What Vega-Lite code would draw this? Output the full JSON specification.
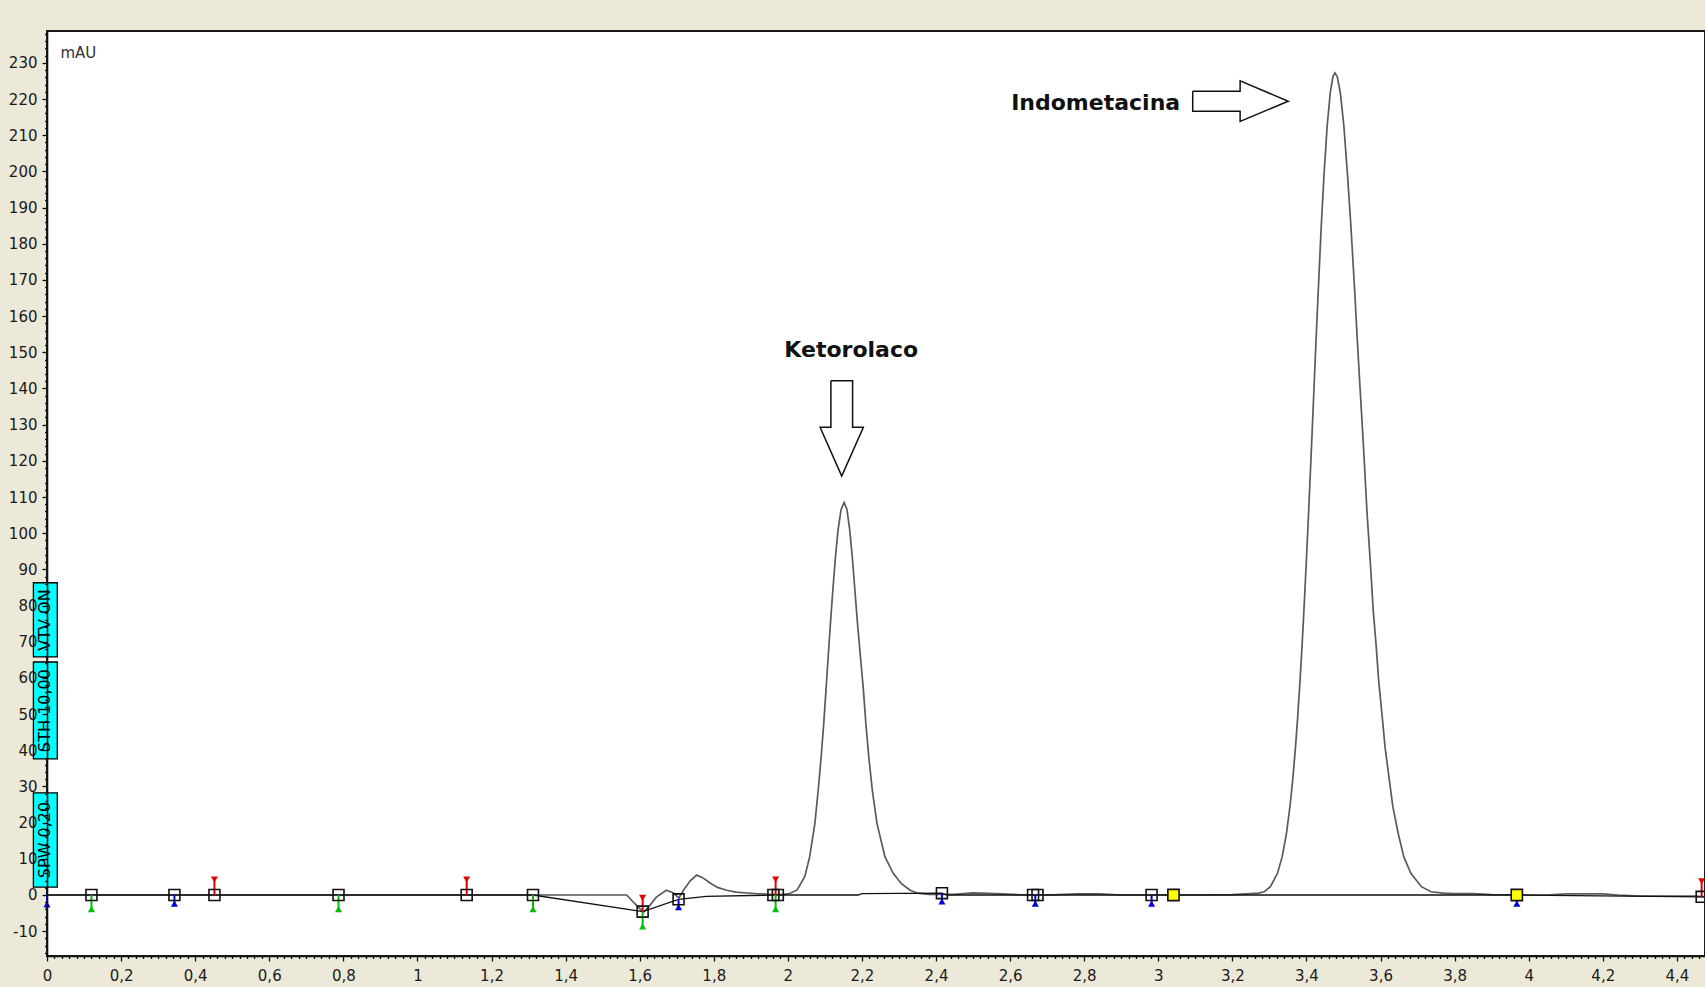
{
  "$schema": "https://vega.github.io/schema/vega-lite/v6.json",
  "width": 1658,
  "height": 925,
  "autosize": {"type": "none"},
  "padding": {"left": 47, "top": 31, "right": 0, "bottom": 31},
  "background": "#ECE9D8",
  "config": {
    "view": {"fill": "white", "stroke": "#1a1a1a", "strokeWidth": 2},
    "font": "DejaVu Sans"
  },
  "datasets": {
    "trace": [
      {"x": 0, "y": 0}, {"x": 0.3, "y": 0}, {"x": 0.6, "y": 0}, {"x": 0.9, "y": 0}, {"x": 1.2, "y": 0}, {"x": 1.5, "y": 0}, {"x": 1.565, "y": 0},
      {"x": 1.585, "y": -2.2}, {"x": 1.61, "y": -4.8}, {"x": 1.625, "y": -3.2}, {"x": 1.645, "y": -0.6}, {"x": 1.672, "y": 1.3}, {"x": 1.69, "y": 0.6}, {"x": 1.706, "y": -0.8}, {"x": 1.72, "y": 1.6}, {"x": 1.737, "y": 4.0}, {"x": 1.754, "y": 5.5}, {"x": 1.77, "y": 4.8}, {"x": 1.79, "y": 3.3}, {"x": 1.81, "y": 2.1}, {"x": 1.835, "y": 1.3}, {"x": 1.86, "y": 0.8}, {"x": 1.89, "y": 0.55}, {"x": 1.92, "y": 0.35}, {"x": 1.95, "y": 0.2}, {"x": 1.985, "y": 0.1},
      {"x": 2.005, "y": 0.4}, {"x": 2.025, "y": 1.4}, {"x": 2.046, "y": 5.1}, {"x": 2.059, "y": 10.6}, {"x": 2.073, "y": 19.8}, {"x": 2.082, "y": 29.0}, {"x": 2.09, "y": 38.2}, {"x": 2.097, "y": 47.5}, {"x": 2.103, "y": 56.7}, {"x": 2.109, "y": 65.9}, {"x": 2.115, "y": 75.1}, {"x": 2.1215, "y": 84.3}, {"x": 2.1286, "y": 93.5}, {"x": 2.1356, "y": 100.9}, {"x": 2.1437, "y": 106.5}, {"x": 2.152, "y": 108.5}, {"x": 2.1597, "y": 106.5}, {"x": 2.167, "y": 100.9}, {"x": 2.174, "y": 93.5}, {"x": 2.181, "y": 84.3}, {"x": 2.188, "y": 75.1}, {"x": 2.196, "y": 65.9}, {"x": 2.204, "y": 56.7}, {"x": 2.2105, "y": 47.5}, {"x": 2.2185, "y": 38.2}, {"x": 2.228, "y": 29.0}, {"x": 2.2406, "y": 19.8}, {"x": 2.262, "y": 10.6}, {"x": 2.2845, "y": 6.0}, {"x": 2.306, "y": 3.2}, {"x": 2.329, "y": 1.4}, {"x": 2.35, "y": 0.5}, {"x": 2.38, "y": 0.2},
      {"x": 2.45, "y": 0.2}, {"x": 2.5, "y": 0.6}, {"x": 2.56, "y": 0.4}, {"x": 2.62, "y": 0.1}, {"x": 2.7, "y": 0}, {"x": 2.78, "y": 0.3}, {"x": 2.84, "y": 0.3}, {"x": 2.9, "y": 0}, {"x": 3.1, "y": 0}, {"x": 3.2, "y": 0.1}, {"x": 3.24, "y": 0.3},
      {"x": 3.27, "y": 0.5}, {"x": 3.286, "y": 0.9}, {"x": 3.3027, "y": 2.3}, {"x": 3.322, "y": 6.0}, {"x": 3.3346, "y": 10.6}, {"x": 3.3461, "y": 17.0}, {"x": 3.3555, "y": 24.4}, {"x": 3.363, "y": 31.8}, {"x": 3.3706, "y": 41.0}, {"x": 3.3759, "y": 48.4}, {"x": 3.3828, "y": 59.4}, {"x": 3.3881, "y": 68.7}, {"x": 3.3929, "y": 77.9}, {"x": 3.3995, "y": 91.7}, {"x": 3.4058, "y": 105.5}, {"x": 3.4137, "y": 124.0}, {"x": 3.4199, "y": 138.7}, {"x": 3.426, "y": 153.4}, {"x": 3.4316, "y": 166.3}, {"x": 3.44, "y": 184.8}, {"x": 3.4472, "y": 198.6}, {"x": 3.4559, "y": 212.4}, {"x": 3.4642, "y": 221.6}, {"x": 3.4716, "y": 226.2}, {"x": 3.477, "y": 227.2}, {"x": 3.4832, "y": 226.2}, {"x": 3.4917, "y": 221.6}, {"x": 3.5012, "y": 212.4}, {"x": 3.5112, "y": 198.6}, {"x": 3.5201, "y": 184.8}, {"x": 3.5307, "y": 166.3}, {"x": 3.5373, "y": 153.4}, {"x": 3.5456, "y": 138.7}, {"x": 3.554, "y": 124.0}, {"x": 3.5637, "y": 105.5}, {"x": 3.5726, "y": 91.7}, {"x": 3.5809, "y": 77.9}, {"x": 3.5884, "y": 68.7}, {"x": 3.5949, "y": 59.4}, {"x": 3.6054, "y": 48.4}, {"x": 3.6121, "y": 41.0}, {"x": 3.6238, "y": 31.8}, {"x": 3.6333, "y": 24.4}, {"x": 3.6478, "y": 17.0}, {"x": 3.6627, "y": 10.6}, {"x": 3.6819, "y": 6.0}, {"x": 3.7104, "y": 2.3}, {"x": 3.7364, "y": 0.9}, {"x": 3.77, "y": 0.5},
      {"x": 3.8, "y": 0.4}, {"x": 3.85, "y": 0.4}, {"x": 3.9, "y": 0.1}, {"x": 4.05, "y": 0}, {"x": 4.1, "y": 0.3}, {"x": 4.2, "y": 0.3}, {"x": 4.24, "y": 0}, {"x": 4.3, "y": -0.3}, {"x": 4.45, "y": -0.3}, {"x": 4.476, "y": -0.5}
    ],
    "baseline": [
      {"x": 0, "y": 0}, {"x": 1.312, "y": 0}, {"x": 1.608, "y": -4.6}, {"x": 1.705, "y": -1.2}, {"x": 1.78, "y": -0.4}, {"x": 1.967, "y": 0}, {"x": 2.19, "y": 0}, {"x": 2.2, "y": 0.4}, {"x": 2.416, "y": 0.5}, {"x": 2.43, "y": 0}, {"x": 3.968, "y": 0}, {"x": 4.467, "y": -0.5}, {"x": 4.476, "y": -0.5}
    ],
    "squares": [
      {"x": 0.120, "y": 0, "kind": "normal"}, {"x": 0.344, "y": 0, "kind": "normal"}, {"x": 0.452, "y": 0, "kind": "normal"}, {"x": 0.787, "y": 0, "kind": "normal"}, {"x": 1.133, "y": 0, "kind": "normal"}, {"x": 1.312, "y": 0, "kind": "normal"}, {"x": 1.608, "y": -4.6, "kind": "normal"}, {"x": 1.705, "y": -1.2, "kind": "normal"}, {"x": 1.961, "y": 0, "kind": "normal"}, {"x": 1.973, "y": 0, "kind": "normal"}, {"x": 2.416, "y": 0.5, "kind": "normal"}, {"x": 2.662, "y": 0, "kind": "normal"}, {"x": 2.674, "y": 0, "kind": "normal"}, {"x": 2.982, "y": 0, "kind": "normal"}, {"x": 3.041, "y": 0, "kind": "event"}, {"x": 3.968, "y": 0, "kind": "event"}, {"x": 4.467, "y": -0.5, "kind": "normal"}
    ],
    "flags": [
      {"x": 0.452, "y": 4.3, "y0": 0, "kind": "start"}, {"x": 1.133, "y": 4.3, "y0": 0, "kind": "start"}, {"x": 1.608, "y": -0.8, "y0": -4.6, "kind": "start"}, {"x": 1.967, "y": 4.3, "y0": 0, "kind": "start"}, {"x": 4.467, "y": 3.8, "y0": -0.5, "kind": "start"},
      {"x": 0.120, "y": -3.9, "y0": 0, "kind": "end"}, {"x": 0.787, "y": -3.9, "y0": 0, "kind": "end"}, {"x": 1.312, "y": -3.9, "y0": 0, "kind": "end"}, {"x": 1.608, "y": -8.7, "y0": -4.6, "kind": "end"}, {"x": 1.967, "y": -3.9, "y0": 0, "kind": "end"},
      {"x": 0.0, "y": -2.6, "y0": 0.5, "kind": "valley"}, {"x": 0.344, "y": -2.4, "y0": 0, "kind": "valley"}, {"x": 1.705, "y": -3.4, "y0": -1.2, "kind": "valley"}, {"x": 2.416, "y": -1.8, "y0": 0.5, "kind": "valley"}, {"x": 2.668, "y": -2.4, "y0": 0, "kind": "valley"}, {"x": 2.982, "y": -2.4, "y0": 0, "kind": "valley"}, {"x": 3.968, "y": -2.4, "y0": 0, "kind": "valley"}
    ],
    "boxes": [
      {"x": -0.0367, "x2": 0.0278, "y": 65.8, "y2": 86.3},
      {"x": -0.0367, "x2": 0.0278, "y": 37.6, "y2": 64.4},
      {"x": -0.0367, "x2": 0.0278, "y": 2.2, "y2": 28.2}
    ],
    "boxlabels": [
      {"x": -0.0045, "y": 76.0, "label": "VTV ON"},
      {"x": -0.0045, "y": 51.0, "label": "STH 10,00"},
      {"x": -0.0045, "y": 15.2, "label": "SPW 0,20"}
    ],
    "arrows": [
      {"id": "k", "i": 1, "x": 2.1162, "y": 142.1}, {"id": "k", "i": 2, "x": 2.1748, "y": 142.1}, {"id": "k", "i": 3, "x": 2.1748, "y": 129.3}, {"id": "k", "i": 4, "x": 2.2039, "y": 129.3}, {"id": "k", "i": 5, "x": 2.1455, "y": 115.8}, {"id": "k", "i": 6, "x": 2.0871, "y": 129.3}, {"id": "k", "i": 7, "x": 2.1162, "y": 129.3}, {"id": "k", "i": 8, "x": 2.1162, "y": 142.1},
      {"id": "n", "i": 1, "x": 3.093, "y": 222.15}, {"id": "n", "i": 2, "x": 3.221, "y": 222.15}, {"id": "n", "i": 3, "x": 3.221, "y": 225.0}, {"id": "n", "i": 4, "x": 3.351, "y": 219.4}, {"id": "n", "i": 5, "x": 3.221, "y": 213.8}, {"id": "n", "i": 6, "x": 3.221, "y": 216.65}, {"id": "n", "i": 7, "x": 3.093, "y": 216.65}, {"id": "n", "i": 8, "x": 3.093, "y": 222.15}
    ],
    "peaklabels": [
      {"x": 2.171, "y": 150.7, "label": "Ketorolaco"},
      {"x": 2.831, "y": 219.0, "label": "Indometacina"}
    ]
  },
  "encoding": {
    "x": {
      "field": "x", "type": "quantitative",
      "scale": {"domain": [0, 4.476], "nice": false, "zero": false},
      "axis": {
        "title": null, "grid": false, "zindex": 1,
        "tickCount": 224,
        "labelExpr": "abs(datum.value*5 - round(datum.value*5)) < 0.000001 ? replace(format(datum.value, '.1~f'), '.', ',') : ''",
        "labelOverlap": false, "labelFlush": false, "labelBound": false,
        "tickSize": {"condition": {"test": "abs(datum.value*5 - round(datum.value*5)) < 0.000001", "value": 5}, "value": 2.5},
        "tickColor": "#111", "tickWidth": 1.3,
        "domainColor": "#111", "domainWidth": 1.6,
        "labelFont": "DejaVu Sans", "labelFontSize": 15, "labelColor": "#1a1a1a", "labelPadding": 7
      }
    },
    "y": {
      "field": "y", "type": "quantitative",
      "scale": {"domain": [-16.86, 238.8], "nice": false, "zero": false},
      "axis": {
        "title": "mAU", "titleAngle": 0, "titleAlign": "left", "titleBaseline": "middle", "titleX": 13, "titleY": 21,
        "titleFont": "DejaVu Sans", "titleFontSize": 15, "titleFontWeight": "normal", "titleColor": "#333",
        "grid": false, "zindex": 1,
        "tickCount": 128,
        "labelExpr": "datum.value % 10 === 0 ? '' + datum.value : ''",
        "labelOverlap": false, "labelBound": false, "labelFlush": false,
        "tickSize": {"condition": {"test": "datum.value % 10 === 0", "value": 5}, "value": 2.5},
        "tickColor": "#111", "tickWidth": 1.3,
        "domainColor": "#111", "domainWidth": 1.6,
        "labelFont": "DejaVu Sans", "labelFontSize": 15, "labelColor": "#1a1a1a", "labelPadding": 5
      }
    }
  },
  "layer": [
    {
      "data": {"name": "boxes"},
      "mark": {"type": "rect", "fill": "#00FFFF", "stroke": "#000", "strokeWidth": 1.3},
      "encoding": {"x2": {"field": "x2"}, "y2": {"field": "y2"}}
    },
    {
      "data": {"name": "boxlabels"},
      "mark": {"type": "text", "angle": 270, "align": "center", "baseline": "middle", "font": "DejaVu Sans", "fontSize": 16, "fill": "#000"},
      "encoding": {"text": {"field": "label"}}
    },
    {
      "data": {"name": "trace"},
      "mark": {"type": "line", "stroke": "#5a5a5a", "strokeWidth": 1.7},
      "encoding": {}
    },
    {
      "data": {"name": "baseline"},
      "mark": {"type": "line", "stroke": "#111", "strokeWidth": 1.3},
      "encoding": {}
    },
    {
      "data": {"name": "flags"},
      "mark": {"type": "rule", "strokeWidth": 2},
      "encoding": {
        "y2": {"field": "y0"},
        "color": {"field": "kind", "type": "nominal", "scale": {"domain": ["start", "end", "valley"], "range": ["#E00000", "#00C000", "#0000E0"]}, "legend": null}
      }
    },
    {
      "data": {"name": "flags"},
      "mark": {"type": "point", "filled": true, "size": 50, "opacity": 1},
      "encoding": {
        "color": {"field": "kind", "type": "nominal", "scale": {"domain": ["start", "end", "valley"], "range": ["#E00000", "#00C000", "#0000E0"]}, "legend": null},
        "shape": {"field": "kind", "type": "nominal", "scale": {"domain": ["start", "end", "valley"], "range": ["triangle-down", "triangle-up", "triangle-up"]}, "legend": null}
      }
    },
    {
      "data": {"name": "squares"},
      "transform": [{"filter": "datum.kind === 'event'"}],
      "mark": {"type": "point", "shape": "square", "filled": true, "fill": "#FFFF00", "stroke": "#111", "strokeWidth": 1.6, "size": 125, "opacity": 1}
    },
    {
      "data": {"name": "squares"},
      "transform": [{"filter": "datum.kind === 'normal'"}],
      "mark": {"type": "point", "shape": "square", "filled": false, "stroke": "#111", "strokeWidth": 1.6, "size": 120, "opacity": 1}
    },
    {
      "data": {"name": "arrows"},
      "mark": {"type": "line", "stroke": "#111", "strokeWidth": 1.5},
      "encoding": {"detail": {"field": "id"}, "order": {"field": "i", "type": "quantitative"}}
    },
    {
      "data": {"name": "peaklabels"},
      "mark": {"type": "text", "align": "center", "baseline": "middle", "font": "DejaVu Sans", "fontSize": 22, "fontWeight": "bold", "fill": "#111"},
      "encoding": {"text": {"field": "label"}}
    }
  ]
}
